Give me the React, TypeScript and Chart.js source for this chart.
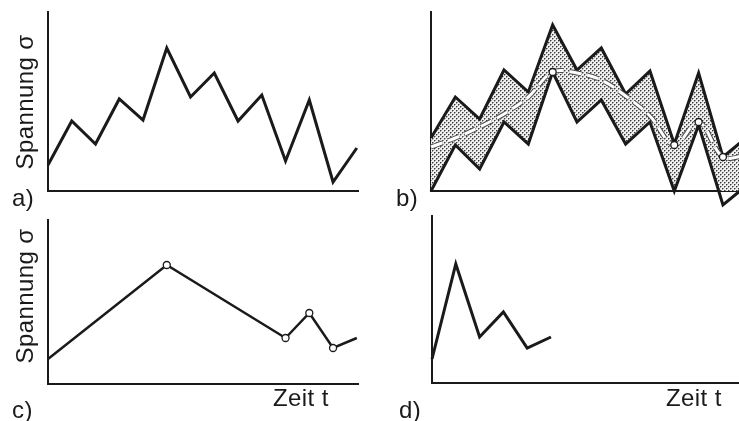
import React, { useEffect, useRef } from "react";
import { Chart, registerables } from "chart.js";

Chart.register(...registerables);

// ---- data (arbitrary stress units, time steps) ----
const stepsA = [0, 1, 2, 3, 4, 5, 6, 7, 8, 9, 10, 11, 12, 13];
const stressA = [26, 70, 47, 92, 71, 143, 94, 118, 70, 96, 30, 91, 9, 43];

const stepsB = [0, 1, 2, 3, 4, 5, 6, 7, 8, 9, 10, 11, 12, 13];
const upperB = [53, 94, 72, 121, 99, 166, 121, 143, 97, 120, 47, 118, 34, 54];
const lowerB = [0, 46, 22, 69, 47, 119, 69, 91, 47, 69, 0, 66, -14, 6];
const meanB = [44, 53, 64, 77, 94, 119, 118, 111, 95, 75, 46, 69, 34, 36];
const meanMarkIdxB = [5, 10, 11, 12];

const stepsC = [0, 5, 10, 11, 12, 13];
const stressC = [25, 119, 46, 71, 36, 46];
const markIdxC = [1, 2, 3, 4];

const stepsD = [0, 1, 2, 3, 4, 5];
const stressD = [24, 119, 46, 71, 35, 46];

const INK = "#1a1a1a";

const pts = (xs: number[], ys: number[]) => xs.map((x, i) => ({ x, y: ys[i] }));

function makePattern(): CanvasPattern | string {
  const c = document.createElement("canvas");
  c.width = 4;
  c.height = 4;
  const g = c.getContext("2d");
  if (!g) return "#c0c0c0";
  g.fillStyle = "#efefef";
  g.fillRect(0, 0, 4, 4);
  g.fillStyle = "#9a9a9a";
  g.fillRect(1, 0, 1, 1);
  g.fillRect(0, 1, 1, 1);
  g.fillRect(3, 2, 1, 1);
  g.fillRect(2, 3, 1, 1);
  g.fillStyle = "#3a3a3a";
  g.fillRect(0, 0, 1, 1);
  g.fillRect(2, 2, 1, 1);
  const p = g.createPattern(c, "repeat");
  return p || "#c0c0c0";
}

function axes(xMax: number, yMin: number, yMax: number) {
  const common = {
    type: "linear" as const,
    display: true,
    grid: { display: false, drawTicks: false },
    ticks: { display: false },
    border: { display: true, color: INK, width: 2 },
  };
  return {
    x: { ...common, min: 0, max: xMax },
    y: { ...common, min: yMin, max: yMax },
  };
}

function baseOptions(padding: any, xMax: number, yMax: number, extraPlugins: any = {}) {
  return {
    responsive: false,
    animation: false as const,
    layout: { padding },
    plugins: {
      legend: { display: false },
      title: { display: false },
      tooltip: { enabled: false },
      ...extraPlugins,
    },
    scales: axes(xMax, 0, yMax),
  };
}

const panels = [
  { key: "a", left: 0, top: 0, w: 370, h: 212 },
  { key: "b", left: 370, top: 0, w: 369, h: 212 },
  { key: "c", left: 0, top: 212, w: 370, h: 209 },
  { key: "d", left: 370, top: 212, w: 369, h: 209 },
];

const textStyle: React.CSSProperties = {
  position: "absolute",
  fontFamily: "'Liberation Sans', Arial, Helvetica, sans-serif",
  fontSize: 24,
  lineHeight: "24px",
  letterSpacing: "0.4px",
  color: INK,
  whiteSpace: "nowrap",
};

export default function App() {
  const refA = useRef<HTMLCanvasElement>(null);
  const refB = useRef<HTMLCanvasElement>(null);
  const refC = useRef<HTMLCanvasElement>(null);
  const refD = useRef<HTMLCanvasElement>(null);

  useEffect(() => {
    const charts: Chart[] = [];
    const pattern = makePattern();

    if (refA.current) {
      charts.push(
        new Chart(refA.current, {
          type: "line",
          data: {
            datasets: [
              {
                data: pts(stepsA, stressA),
                borderColor: INK,
                borderWidth: 3,
                pointRadius: 0,
                tension: 0,
                borderJoinStyle: "miter",
                clip: { left: 2, top: 10, right: 2, bottom: 10 },
              },
            ],
          },
          options: baseOptions({ left: 48, right: 12, top: 12, bottom: 21 }, 13.05, 179) as any,
        })
      );
    }

    if (refB.current) {
      const meanRadius = meanB.map((_, i) => (meanMarkIdxB.includes(i) ? 3.5 : 0));
      charts.push(
        new Chart(refB.current, {
          type: "line",
          data: {
            datasets: [
              {
                data: pts(stepsB, meanB),
                borderColor: "#ffffff",
                borderWidth: 3,
                borderDash: [12, 6],
                pointRadius: meanRadius,
                pointBackgroundColor: "#ffffff",
                pointBorderColor: INK,
                pointBorderWidth: 1.3,
                tension: 0.35,
                fill: false,
                clip: { left: 2, top: 10, right: 0, bottom: 30 },
              },
              {
                data: pts(stepsB, meanB),
                borderColor: "#4a4a4a",
                borderWidth: 5,
                borderDash: [12, 6],
                pointRadius: 0,
                tension: 0.35,
                fill: false,
                clip: { left: 2, top: 10, right: 0, bottom: 30 },
              },
              {
                data: pts(stepsB, upperB),
                borderColor: INK,
                borderWidth: 3,
                pointRadius: 0,
                tension: 0,
                borderJoinStyle: "miter",
                fill: "+1",
                backgroundColor: pattern as any,
                clip: { left: 2, top: 10, right: 0, bottom: 30 },
              },
              {
                data: pts(stepsB, lowerB),
                borderColor: INK,
                borderWidth: 3,
                pointRadius: 0,
                tension: 0,
                borderJoinStyle: "miter",
                fill: false,
                clip: { left: 2, top: 10, right: 0, bottom: 30 },
              },
            ],
          },
          options: baseOptions({ left: 61, right: 0, top: 12, bottom: 21 }, 12.66, 179, {
            filler: { drawTime: "beforeDatasetsDraw", propagate: false },
          }) as any,
        })
      );
    }

    if (refC.current) {
      const r = stressC.map((_, i) => (markIdxC.includes(i) ? 3.5 : 0));
      charts.push(
        new Chart(refC.current, {
          type: "line",
          data: {
            datasets: [
              {
                data: pts(stepsC, stressC),
                borderColor: INK,
                borderWidth: 2.5,
                pointRadius: r,
                pointBackgroundColor: "#ffffff",
                pointBorderColor: INK,
                pointBorderWidth: 1.3,
                tension: 0,
                clip: { left: 2, top: 10, right: 2, bottom: 10 },
              },
            ],
          },
          options: baseOptions({ left: 48, right: 12, top: 8, bottom: 37 }, 13.05, 164) as any,
        })
      );
    }

    if (refD.current) {
      charts.push(
        new Chart(refD.current, {
          type: "line",
          data: {
            datasets: [
              {
                data: pts(stepsD, stressD),
                borderColor: INK,
                borderWidth: 3,
                pointRadius: 0,
                tension: 0,
                borderJoinStyle: "miter",
                clip: { left: 2, top: 10, right: 2, bottom: 10 },
              },
            ],
          },
          options: baseOptions({ left: 62, right: 0, top: 4, bottom: 38 }, 12.9, 167) as any,
        })
      );
    }

    return () => charts.forEach((c) => c.destroy());
  }, []);

  const refs = [refA, refB, refC, refD];

  return (
    <div
      style={{
        position: "fixed",
        left: 0,
        top: 0,
        width: 739,
        height: 421,
        background: "#ffffff",
        overflow: "hidden",
      }}
    >
      {panels.map((p, i) => (
        <canvas
          key={p.key}
          ref={refs[i]}
          width={p.w}
          height={p.h}
          style={{ position: "absolute", left: p.left, top: p.top, width: p.w, height: p.h }}
        />
      ))}

      {/* y-axis labels */}
      <div style={{ ...textStyle, left: 25, top: 102, transform: "translate(-50%, -50%) rotate(-90deg)" }}>
        Spannung σ
      </div>
      <div style={{ ...textStyle, left: 25, top: 296, transform: "translate(-50%, -50%) rotate(-90deg)" }}>
        Spannung σ
      </div>

      {/* panel letters */}
      <div style={{ ...textStyle, left: 12, top: 186 }}>a)</div>
      <div style={{ ...textStyle, left: 396, top: 186 }}>b)</div>
      <div style={{ ...textStyle, left: 12, top: 398 }}>c)</div>
      <div style={{ ...textStyle, left: 399, top: 398 }}>d)</div>

      {/* x-axis labels */}
      <div style={{ ...textStyle, left: 273, top: 386 }}>Zeit t</div>
      <div style={{ ...textStyle, left: 666, top: 386 }}>Zeit t</div>
    </div>
  );
}
